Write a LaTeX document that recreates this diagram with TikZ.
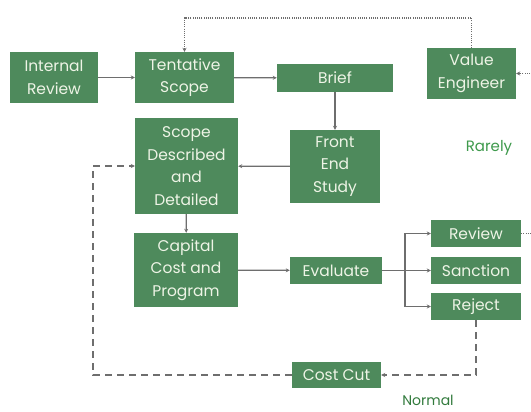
\documentclass[tikz,border=0pt]{standalone}
\usepackage{fontspec}
\setmainfont{Poppins}
\usetikzlibrary{arrows.meta}

\definecolor{boxgreen}{HTML}{4E8A5C}
\definecolor{boxtext}{HTML}{EEF4E6}
\definecolor{linegray}{HTML}{6E6E6E}
\definecolor{notegreen}{HTML}{3E9A4C}

\tikzset{
  box/.style={fill=boxgreen, text=boxtext, align=center, inner sep=0pt,
    font=\fontsize{15.5}{22.5}\selectfont},
  flow/.style={draw=linegray, line width=1.3pt, -{Stealth[length=4pt,width=4pt]}},
  rare/.style={flow, dash pattern=on 1pt off 1.2pt, line width=1.6pt},
  back/.style={flow, dash pattern=on 7pt off 5pt}
}

\begin{document}
\begin{tikzpicture}[x=1pt, y=-1pt]

\clip (0,0) rectangle (531,412);
\fill[white] (0,0) rectangle (531,412);

\node (intrev) at (54,77.5) [box, minimum width=88pt, minimum height=51pt] {Internal\\Review};
\node (tentscope) at (184.5,77.5) [box, minimum width=99pt, minimum height=51pt] {Tentative\\Scope};
\node (brief) at (335,78) [box, minimum width=116pt, minimum height=28pt] {Brief};
\node (valeng) at (471.5,73.5) [box, minimum width=89pt, minimum height=51pt] {Value\\Engineer};

\node (scopedesc) at (186.5,166) [box, minimum width=103pt, minimum height=96pt] {Scope\\Described\\and\\Detailed};
\node (frontend) at (335,166.5) [box, minimum width=90pt, minimum height=73pt] {Front\\End\\Study};
\node (rarely) at (489,148) [text=notegreen, font=\fontsize{15}{16}\selectfont] {Rarely};

\node (capcost) at (186,270) [box, minimum width=104pt, minimum height=74pt] {Capital\\Cost and\\Program};
\node (evaluate) at (336,270.5) [box, minimum width=92pt, minimum height=27pt] {Evaluate};

\node (review) at (476,233.5) [box, minimum width=90pt, minimum height=27pt] {Review};
\node (sanction) at (476,270.5) [box, minimum width=90pt, minimum height=27pt] {Sanction};
\node (reject) at (476,306.5) [box, minimum width=90pt, minimum height=27pt] {Reject};

\node (costcut) at (336.5,375) [box, minimum width=89pt, minimum height=26pt] {Cost Cut};
\node (normal) at (428,400) [text=notegreen!80!black, font=\fontsize{14}{15}\selectfont] {Normal};

\draw [flow] (intrev) -- (tentscope);
\draw [flow] (tentscope) -- (brief);
\draw [flow] (brief) -- (frontend);
\draw [flow] (frontend) -- (scopedesc);
\draw [flow] (scopedesc) -- (capcost);
\draw [flow] (capcost) -- (evaluate);

\coordinate (fork) at (405,270.5);
\draw [flow] (evaluate) -- (sanction);
\draw [flow] (fork) |- (review.west);
\draw [flow] (fork) |- (reject.west);

\draw [rare] (review.east) -- ++(30,0) |- (valeng.east);
\draw [rare] (valeng.north) -- ++(0,-30) -| (tentscope.north);

\coordinate (loop) at (93,375);
\draw [back] (reject.south) |- (costcut.east);
\draw [back] (costcut.west) -- (loop) |- (scopedesc.west);

\end{tikzpicture}
\end{document}
